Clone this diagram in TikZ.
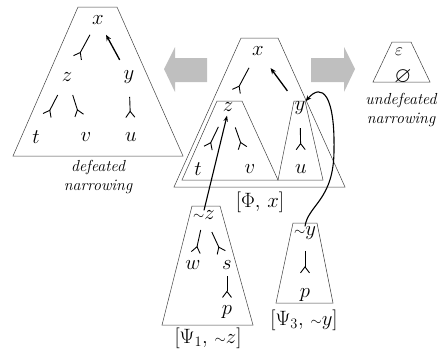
\documentclass[tikz,border=0pt]{standalone}
\usepackage{amssymb}
\usetikzlibrary{arrows.meta,calc}

\begin{document}
\begin{tikzpicture}
    [x=1pt,y=-1pt,%
      every node/.style={inner sep=0pt},%
      trap/.style={draw=black!75,line width=0.5pt},%
      fork/.style={line width=0.9pt,-{Straight Barb[reversed,length=6pt,width=9pt]}},%
      attack/.style={line width=1.3pt,-{Stealth[length=6pt,width=5pt]}},%
      link/.style={line width=1.1pt,-{Stealth[length=6pt,width=4.5pt]}},%
      bigarrow/.style={fill=black!25,draw=none},%
      caption/.style={font=\fontsize{16}{19}\selectfont\itshape,align=center}]
    \fontsize{19.5}{23}\selectfont
    \useasboundingbox (0,0) rectangle (439,348);

    % defeated narrowing (left)
    \draw[trap] (78,7) -- (117,7) -- (183,156) -- (13,156) -- cycle;
    \node (dx) at (98,20) {$x$};
    \node (dz) at (67,77) {$z$};
    \node (dy) at (129,77) {$y$};
    \node (dt) at (36,137) {$t$};
    \node (dv) at (86,137) {$v$};
    \node (du) at (131,137) {$u$};
    \draw[fork] ($(dx)!.26!(dz)$) -- ($(dx)!.67!(dz)$);
    \draw[attack] ($(dy)!.3!(dx)$) -- ($(dy)!.74!(dx)$);
    \draw[fork] ($(dz)!.3!(dt)$) -- ($(dz)!.65!(dt)$);
    \draw[fork] ($(dz)!.3!(dv)$) -- ($(dz)!.65!(dv)$);
    \draw[fork] ($(dy)!.33!(du)$) -- ($(dy)!.68!(du)$);
    \node[caption] (dcap) at (98,177) {defeated\\narrowing};

    % grey arrows
    \fill[bigarrow] (164,69) -- (175,47) -- (175,58) -- (207,58)
      -- (207,82) -- (175,82) -- (175,92) -- cycle;
    \fill[bigarrow] (355,69) -- (344,47) -- (344,58) -- (311,58)
      -- (311,82) -- (344,82) -- (344,92) -- cycle;

    % [Phi, x]
    \draw[trap] (241,38) -- (278,38) -- (345,187) -- (174,187) -- cycle;
    \draw[trap] (217,101) -- (242,101) -- (278,180) -- (182,180) -- cycle;
    \draw[trap] (294,101) -- (305,101) -- (323,180) -- (278,180) -- cycle;
    \node (px) at (258,51) {$x$};
    \node (pz) at (228,107) {$z$};
    \node (py) at (300,108) {$y$};
    \node (pt) at (198,169) {$t$};
    \node (pv) at (250,169) {$v$};
    \node (pu) at (301,169) {$u$};
    \draw[fork] ($(px)!.3!(pz)$) -- ($(px)!.73!(pz)$);
    \draw[attack] ($(py)!.3!(px)$) -- ($(py)!.7!(px)$);
    \draw[fork] ($(pz)!.32!(pt)$) -- ($(pz)!.67!(pt)$);
    \draw[fork] ($(pz)!.33!(pv)$) -- ($(pz)!.67!(pv)$);
    \draw[fork] ($(py)!.33!(pu)$) -- ($(py)!.69!(pu)$);
    \node (phi) at (260,202) {$[\Phi,\,x]$};

    % [Psi_1, ~z]
    \draw[trap] (192,206) -- (220,206) -- (253,325) -- (162,325) -- cycle;
    \node (az) at (204,215) {${\scriptstyle\sim}z$};
    \node (aw) at (193,265) {$w$};
    \node (as) at (227,265) {$s$};
    \node (ap) at (227,312) {$p$};
    \draw[fork] ($(az)!.3!(aw)$) -- ($(az)!.76!(aw)$);
    \draw[fork] ($(az)!.34!(as)$) -- ($(az)!.76!(as)$);
    \draw[fork] ($(as)!.24!(ap)$) -- ($(as)!.7!(ap)$);
    \node (psia) at (208,338) {$[\Psi_1,\,{\scriptstyle\sim}z]$};

    % [Psi_3, ~y]
    \draw[trap] (293,223) -- (317,223) -- (333,303) -- (276,303) -- cycle;
    \node (by) at (305,233) {${\scriptstyle\sim}y$};
    \node (bp) at (305,295) {$p$};
    \draw[fork] ($(by)!.29!(bp)$) -- ($(by)!.65!(bp)$);
    \node (psib) at (304,320) {$[\Psi_3,\,{\scriptstyle\sim}y]$};

    % undefeated narrowing (right)
    \draw[trap] (392,42) -- (411,42) -- (430,82) -- (373,82) -- cycle;
    \node (ueps) at (399,52) {\fontsize{16}{19}\selectfont$\varepsilon$};
    \node (uset) at (403,77) {\fontsize{22}{24}\selectfont$\varnothing$};
    \node[caption] (ucap) at (401,110) {undefeated\\narrowing};

    % links between the trees
    \draw[link,shorten >=4pt] (az.north) -- (pz.south);
    \draw[link] (by.north) .. controls (308,205) and (334,200) .. (334,150)
      .. controls (335,95) and (322,82) .. (py.north east);
\end{tikzpicture}
\end{document}
